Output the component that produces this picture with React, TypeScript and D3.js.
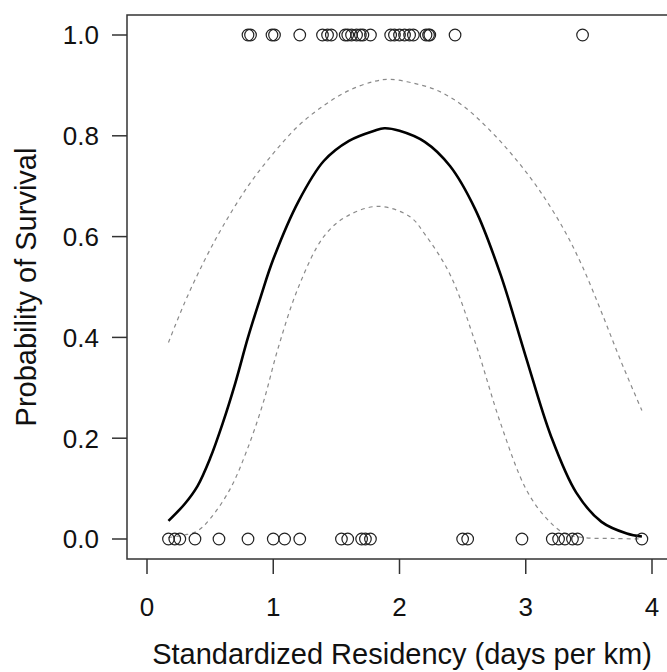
import * as React from 'react';
import * as d3 from 'd3';

// observed outcomes (x = standardized residency)
const survived = [0.8, 0.82, 0.99, 1.01, 1.21, 1.39, 1.43, 1.46, 1.57, 1.59, 1.62, 1.66, 1.69, 1.71, 1.77,
  1.93, 1.96, 2.0, 2.04, 2.08, 2.11, 2.21, 2.23, 2.24, 2.44, 3.45];
const died = [0.17, 0.22, 0.26, 0.38, 0.57, 0.8, 1.0, 1.09, 1.21, 1.54, 1.59, 1.7, 1.73, 1.77,
  2.5, 2.54, 2.97, 3.21, 3.26, 3.31, 3.37, 3.41, 3.92];

// fitted curve and 95% band
const fitX = [0.17, 0.3, 0.4, 0.5, 0.6, 0.7, 0.8, 0.9, 1.0, 1.2, 1.4, 1.6, 1.8, 1.88, 2.0, 2.2, 2.4, 2.6, 2.8, 3.0, 3.2, 3.4, 3.6, 3.8, 3.92];
const fitP = [0.036, 0.07, 0.105, 0.16, 0.23, 0.31, 0.4, 0.48, 0.555, 0.67, 0.75, 0.79, 0.81, 0.815, 0.81, 0.788, 0.74, 0.654, 0.525, 0.362, 0.204, 0.092, 0.034, 0.011, 0.005];

const upX = [0.17, 0.3, 0.45, 0.6, 0.8, 1.0, 1.2, 1.4, 1.6, 1.8, 1.92, 2.1, 2.3, 2.5, 2.7, 2.9, 3.1, 3.3, 3.45, 3.6, 3.75, 3.92];
const upP = [0.39, 0.47, 0.55, 0.62, 0.7, 0.765, 0.82, 0.86, 0.89, 0.908, 0.912, 0.905, 0.89, 0.86, 0.815, 0.76, 0.695, 0.615, 0.54, 0.45, 0.355, 0.255];

const loX = [0.17, 0.3, 0.4, 0.5, 0.66, 0.79, 0.92, 1.04, 1.2, 1.4, 1.58, 1.83, 2.08, 2.2, 2.4, 2.6, 2.8, 3.0, 3.15, 3.3, 3.45, 3.7, 3.92];
const loP = [0.003, 0.008, 0.016, 0.04, 0.1, 0.175, 0.27, 0.38, 0.5, 0.6, 0.64, 0.66, 0.64, 0.605, 0.525, 0.39, 0.23, 0.1, 0.045, 0.012, 0.003, 0.001, 0.0];

const xTicks = [0, 1, 2, 3, 4];
const yTicks = [0, 0.2, 0.4, 0.6, 0.8, 1.0];

const W = 667;
const H = 672;
const font = 'Liberation Sans, Arial, Helvetica, sans-serif';

export default function App() {
  const x = d3.scaleLinear().domain([0, 4]).range([147, 652]);
  const y = d3.scaleLinear().domain([0, 1]).range([539, 35]);
  const box = { left: 127, top: 15, right: 700, bottom: 559 };

  const line = d3.line<[number, number]>()
    .x(d => x(d[0]))
    .y(d => y(d[1]))
    .curve(d3.curveCatmullRom.alpha(0.5));

  const fit = line(fitX.map((v, i) => [v, fitP[i]]));
  const up = line(upX.map((v, i) => [v, upP[i]]));
  const lo = line(loX.map((v, i) => [v, loP[i]]));

  return (
    <svg width={W} height={H} style={{ position: 'absolute', left: 0, top: 0, background: '#fff' }}>
      <rect x={box.left} y={box.top} width={box.right - box.left} height={box.bottom - box.top}
        fill="none" stroke="#333" strokeWidth={1.5} />

      {yTicks.map(t => (
        <g key={'y' + t}>
          <line x1={112} x2={box.left} y1={y(t)} y2={y(t)} stroke="#333" strokeWidth={1.5} />
          <text x={99} y={y(t)} dy="0.36em" textAnchor="end" fontFamily={font} fontSize={26} fill="#111">
            {t.toFixed(1)}
          </text>
        </g>
      ))}
      {xTicks.map(t => (
        <g key={'x' + t}>
          <line x1={x(t)} x2={x(t)} y1={box.bottom} y2={574} stroke="#333" strokeWidth={1.5} />
          <text x={x(t)} y={616} textAnchor="middle" fontFamily={font} fontSize={26} fill="#111">
            {t}
          </text>
        </g>
      ))}

      <text x={402} y={664} textAnchor="middle" fontFamily={font} fontSize={29} fill="#111">
        Standardized Residency (days per km)
      </text>
      <text transform={`translate(36,${(box.top + box.bottom) / 2}) rotate(-90)`} textAnchor="middle"
        fontFamily={font} fontSize={29} fill="#111">
        Probability of Survival
      </text>

      <path d={up ?? ''} fill="none" stroke="#8a8a8a" strokeWidth={1.2} strokeDasharray="4,4" />
      <path d={lo ?? ''} fill="none" stroke="#8a8a8a" strokeWidth={1.2} strokeDasharray="4,4" />
      <path d={fit ?? ''} fill="none" stroke="#000" strokeWidth={2.6} />

      {survived.map((v, i) => (
        <circle key={'s' + i} cx={x(v)} cy={y(1)} r={5.8} fill="none" stroke="#222" strokeWidth={1.2} />
      ))}
      {died.map((v, i) => (
        <circle key={'d' + i} cx={x(v)} cy={y(0)} r={5.8} fill="none" stroke="#222" strokeWidth={1.2} />
      ))}
    </svg>
  );
}
